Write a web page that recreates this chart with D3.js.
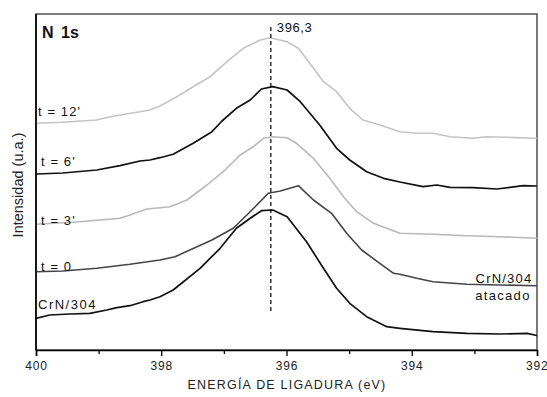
<!DOCTYPE html>
<html><head><meta charset="utf-8">
<script src="https://cdn.jsdelivr.net/npm/d3@7"></script>
<style>body{margin:0;background:#fff}svg{display:block}</style>
</head><body>
<svg id="chart" width="547" height="397"></svg>
<script>
// ---- data (binding energy in eV, intensity in arbitrary units) ----
const energyT12 = [400.00,399.57,399.03,398.82,398.66,398.34,398.18,398.02,397.75,397.49,397.22,396.95,396.69,396.42,396.26,395.99,395.81,395.57,395.41,395.20,394.99,394.78,394.51,394.19,393.92,393.66,393.39,393.02,392.80,392.48,392.00];
const intensT12 = [226.7,227.7,230,233.3,235,238.3,240,244,253.3,263.3,273.3,288.3,301.7,310,312.3,308.3,301.7,281.7,268.3,258.3,241.7,230,225,218.3,216.7,216.7,213.3,211.7,213.3,212.7,211.7];

const energyT6 = [400.00,399.57,399.03,398.66,398.34,398.18,398.02,397.81,397.49,397.19,397.03,396.80,396.58,396.40,396.22,395.99,395.78,395.47,395.20,394.99,394.72,394.45,394.19,393.82,393.60,393.39,393.02,392.64,392.22,392.00];
const intensT6 = [176,177,180,184.3,189,190,192.3,195.7,206.7,218.3,229,241.7,250,261,263.3,260,248.3,225,201.7,190,178.3,171.7,168,163.3,165,162.7,162.3,161,164.3,164];

const energyT3 = [400.00,399.30,398.66,398.50,398.23,398.02,397.86,397.59,397.27,397.01,396.74,396.53,396.37,396.22,395.99,395.84,395.57,395.31,395.09,394.88,394.61,394.19,393.66,393.12,392.59,392.00];
const intensT3 = [125.7,128.3,131.7,135,141,142.3,143.3,150,165,178.3,195,203.3,211.7,213.3,212.3,206.7,191.7,171.7,153.3,138.3,126.7,116.7,115.7,114.3,113.3,111.7];

const energyT0 = [400.00,399.57,399.03,398.50,398.02,397.78,397.19,396.85,396.58,396.29,396.10,395.81,395.57,395.28,395.04,394.80,394.51,394.29,394.19,393.92,393.66,393.12,392.59,392.00];
const intensT0 = [78.3,79,81.7,85.7,90,93.3,110,121.7,138.3,156.7,159,164.3,150,136.7,116.7,100,86.7,76.7,75.7,71.7,68.3,65.7,65,64.3];

const energyCrN = [400.00,399.78,399.46,399.14,398.87,398.71,398.50,398.29,398.18,398.02,397.81,397.38,397.06,396.80,396.58,396.40,396.22,395.99,395.68,395.41,395.20,394.99,394.72,394.40,394.19,393.66,393.12,392.59,392.16,392.00];
const intensCrN = [31.7,35,36,36.7,40,42.3,44.3,48.3,50,53.3,60,81.7,101.7,121.7,131.7,139.3,140,133.3,108.3,81.7,61.7,46.7,33.3,23.3,21.7,18.3,16.7,16,16.7,14.5];

const seriesNames = ["t = 12'", "t = 6'", "t = 3'", "t = 0", "CrN/304"];
const xTickValues = [400, 398, 396, 394, 392];
const xMinorTicks = [399, 397, 395, 393];
const peakEnergy = 396.25;
const peakLabel = "396,3";

// ---- drawing ----
const svg = d3.select("#chart");
const W = 547, H = 397;
const m = {left: 36, right: 10, top: 14, bottom: 47};
const x = d3.scaleLinear().domain([400, 392]).range([m.left, W - m.right]);
const y = d3.scaleLinear().domain([0, 336]).range([H - m.bottom, m.top]);
const font = "'Liberation Sans', Arial, sans-serif";

const series = [
  {name: seriesNames[0], e: energyT12, v: intensT12, color: "#c4c4c4", w: 1.6},
  {name: seriesNames[1], e: energyT6,  v: intensT6,  color: "#111111", w: 1.7},
  {name: seriesNames[2], e: energyT3,  v: intensT3,  color: "#b8b8b8", w: 1.6},
  {name: seriesNames[3], e: energyT0,  v: intensT0,  color: "#454545", w: 1.6},
  {name: seriesNames[4], e: energyCrN, v: intensCrN, color: "#111111", w: 1.7}
];

// frame
svg.append("rect").attr("x", x(400)).attr("y", y(336))
  .attr("width", x(392) - x(400)).attr("height", y(0) - y(336))
  .attr("fill", "none").attr("stroke", "#444").attr("stroke-width", 1.4);

const line = d3.line().x(d => x(d[0])).y(d => y(d[1]));
series.forEach(s => {
  svg.append("path").datum(s.e.map((e, i) => [e, s.v[i]]))
    .attr("d", line).attr("fill", "none")
    .attr("stroke", s.color).attr("stroke-width", s.w)
    .attr("stroke-linejoin", "round");
});

// dashed peak line
svg.append("line").attr("x1", x(peakEnergy)).attr("x2", x(peakEnergy))
  .attr("y1", y(323)).attr("y2", y(37))
  .attr("stroke", "#000").attr("stroke-width", 1.2).attr("stroke-dasharray", "4,3");
svg.append("text").attr("x", x(peakEnergy) + 6).attr("y", 32)
  .attr("font-family", font).attr("font-size", 13).attr("letter-spacing", 0.6)
  .attr("fill", "#111").text(peakLabel);

// x axis
const xAxis = d3.axisBottom(x).tickValues(xTickValues).tickSize(6).tickPadding(5).tickFormat(d3.format("d"));
const gx = svg.append("g").attr("transform", `translate(0,${y(0)})`).call(xAxis);
gx.select(".domain").attr("stroke", "#000").attr("stroke-width", 1.5);
gx.selectAll(".tick line").attr("stroke", "#000").attr("stroke-width", 1.3);
gx.selectAll(".tick text").attr("font-family", font).attr("font-size", 12)
  .attr("letter-spacing", 0.8).attr("fill", "#222")
  .attr("text-anchor", d => d === 392 ? "end" : "middle")
  .attr("dx", d => d === 392 ? 11 : 0);
const gm = svg.append("g").attr("transform", `translate(0,${y(0)})`)
  .call(d3.axisBottom(x).tickValues(xMinorTicks).tickSize(4).tickFormat(""));
gm.select(".domain").remove();
gm.selectAll(".tick line").attr("stroke", "#000").attr("stroke-width", 1.3);

// left axis line
svg.append("line").attr("x1", x(400)).attr("x2", x(400)).attr("y1", y(0)).attr("y2", y(336))
  .attr("stroke", "#000").attr("stroke-width", 1.6);

// axis titles
svg.append("text").attr("x", 287).attr("y", 389).attr("text-anchor", "middle")
  .attr("font-family", font).attr("font-size", 12.5).attr("letter-spacing", 1.2)
  .attr("fill", "#222").text("ENERGÍA DE LIGADURA (eV)");
svg.append("text").attr("transform", "translate(23,185) rotate(-90)")
  .attr("text-anchor", "middle").attr("font-family", font).attr("font-size", 14.5)
  .attr("fill", "#222").text("Intensidad (u.a.)");

// panel label
svg.append("text").attr("x", 42).attr("y", 38).attr("font-family", font)
  .attr("font-size", 16).attr("font-weight", "bold").attr("word-spacing", 3)
  .attr("fill", "#111").text("N 1s");

// series labels
const labelPos = [[38, 115.5], [41, 166], [41, 225], [41, 271], [38, 309]];
series.forEach((s, i) => {
  svg.append("text").attr("x", labelPos[i][0]).attr("y", labelPos[i][1])
    .attr("font-family", font).attr("font-size", 13)
    .attr("letter-spacing", i === 4 ? 1.5 : 1.1)
    .attr("fill", "#111").text(s.name);
});
svg.append("text").attr("x", 504).attr("y", 283).attr("text-anchor", "middle")
  .attr("font-family", font).attr("font-size", 13).attr("letter-spacing", 1.2)
  .attr("fill", "#111").text("CrN/304");
svg.append("text").attr("x", 503).attr("y", 300).attr("text-anchor", "middle")
  .attr("font-family", font).attr("font-size", 13).attr("letter-spacing", 1.3)
  .attr("fill", "#111").text("atacado");
</script>
</body></html>
